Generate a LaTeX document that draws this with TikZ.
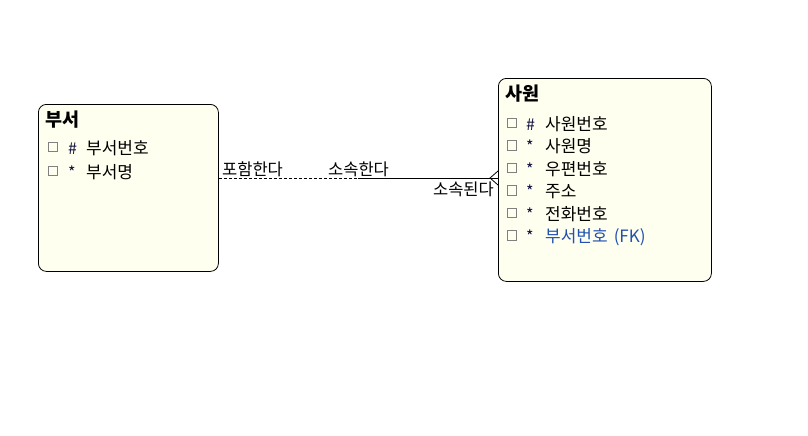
\documentclass[tikz,border=0pt]{standalone}
\usepackage{fontspec}
\setmainfont{Noto Sans CJK KR}
\begin{document}
\begin{tikzpicture}[x=1pt,y=-1pt,
  entity/.style={draw=black,line width=0.8pt,rounded corners=8pt,fill=boxfill,inner sep=0pt,anchor=north west},
  ttl/.style={anchor=base west,inner sep=0pt,font=\fontsize{18.5}{19}\selectfont\bfseries},
  attr/.style={anchor=base west,inner sep=0pt,font=\fontsize{17}{18}\selectfont},
  sym/.style={anchor=base west,inner sep=0pt,font=\fontsize{16}{18}\selectfont,text=symcol},
  chk/.style={draw=chkgray,line width=0.8pt,minimum size=9.5pt,inner sep=0pt},
  lbl/.style={inner sep=0pt,font=\fontsize{16.5}{17}\selectfont},
  rel/.style={line width=0.8pt}
]
\definecolor{boxfill}{HTML}{FFFFF0}
\definecolor{chkgray}{HTML}{808080}
\definecolor{symcol}{HTML}{101040}
\definecolor{fkblue}{HTML}{2050B0}
\useasboundingbox (0,0) rectangle (808,436);
\fill[white] (0,0) rectangle (808,436);
% entities
\node[entity,minimum width=180pt,minimum height=167pt] (dept) at (38,104) {};
\node[entity,minimum width=213pt,minimum height=203pt] (emp) at (498,78) {};
% dept texts
\node[ttl] (dt) at (45,126) {부서};
\node[chk] (dc1) at (53,147) {};
\node[sym] (ds1) at (68,154) {\#};
\node[attr] (da1) at (86,154) {부서번호};
\node[chk] (dc2) at (53,171) {};
\node[sym] (ds2) at (68,178) {*};
\node[attr] (da2) at (86,178) {부서명};
% emp texts
\node[ttl] (et) at (505,100) {사원};
\foreach \i/\y/\s/\t in {1/123/\#/사원번호,2/145.5/*/사원명,3/168/*/우편번호,4/190.5/*/주소,5/213/*/전화번호}{
  \node[chk] (ec\i) at (512,\y) {};
  \node[sym] (es\i) at (526,\y+7) {\s};
  \node[attr] (ea\i) at (545,\y+7) {\t};
}
\node[chk] (ec6) at (512,235.5) {};
\node[sym] (es6) at (526,242.5) {*};
\node[attr,text=fkblue] (ea6) at (545,242.5) {부서번호\hspace{6pt}(FK)};
% relationship
\coordinate (mid) at (358,178);
\coordinate (cf) at (490,178);
\coordinate (cfu) at (498,171);
\coordinate (cfd) at (498,185);
\draw[rel,dash pattern=on 3pt off 2pt] (dept.east |- mid) -- (mid);
\draw[rel] (mid) -- (emp.west |- mid);
\draw[rel] (cfu) -- (cf) -- (cfd);
\node[lbl,anchor=base west] (l1) at (222,175) {포함한다};
\node[lbl,anchor=base west] (l2) at (328,175) {소속한다};
\node[lbl,anchor=base east] (l3) at (494,195) {소속된다};
\end{tikzpicture}
\end{document}
